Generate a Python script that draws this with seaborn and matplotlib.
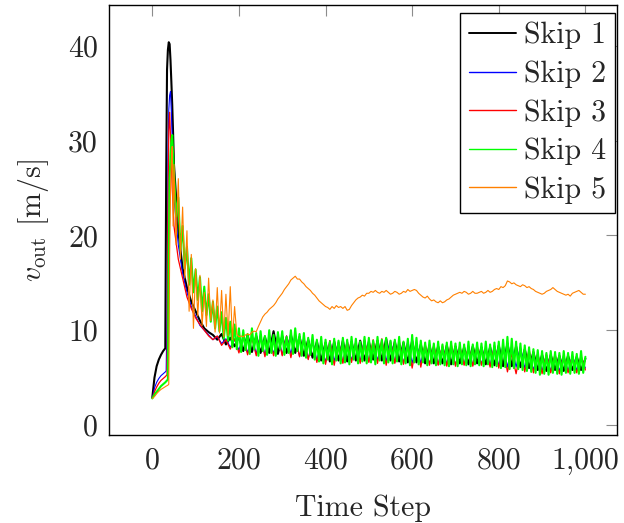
import matplotlib
matplotlib.use("Agg")
import matplotlib.pyplot as plt
from matplotlib.ticker import FuncFormatter, FixedLocator
import seaborn as sns
import pandas as pd

# ---------------- data ----------------
early_steps = [0, 5, 10, 15, 20, 25, 30, 32, 34, 36, 38, 40, 42, 44, 46, 48]
time_fine = early_steps + list(range(50, 1001, 5))
time_coarse = early_steps + list(range(50, 1001, 10))

skip1 = [2.9, 5.0, 6.2, 6.9, 7.4, 7.8, 8.1, 26.0, 37.5, 39.6, 40.4, 40.2, 38.5, 36.2, 33.8, 30.8,
         27.5, 20.5, 16.5, 14.5, 13.0, 12.0, 11.0, 10.2, 9.8, 9.5, 9.0, 9.6, 8.5, 9.2, 8.3, 9.3,
         7.8, 9.5, 7.7, 9.4, 7.6, 9.3, 7.6, 9.9, 7.5, 9.4,
         7.6, 9.5, 7.6, 9.3, 7.3, 9.0, 7.1, 8.8, 6.8, 8.7,
         6.7, 8.8, 6.8, 8.9, 6.7, 8.8, 6.8, 8.9, 6.8, 8.8,
         6.9, 8.9, 6.8, 9.1, 6.8, 8.8, 6.7, 8.7, 6.6, 8.9,
         6.6, 8.5, 6.5, 8.4, 6.5, 8.3, 6.5, 8.4, 6.4, 8.3,
         6.5, 8.2, 6.4, 8.3, 6.5, 8.2, 6.4, 8.2, 6.3, 8.4,
         6.2, 8.6, 6.2, 8.3, 6.1, 8.0, 6.0, 7.7, 5.8, 7.4,
         5.7, 7.4, 5.8, 7.3, 5.7, 7.3, 5.8, 7.2, 5.8, 7.0]

skip2 = [2.8, 3.9, 4.5, 4.9, 5.2, 5.4, 5.6, 5.7, 12.0, 28.0, 33.2, 34.8, 35.2, 33.0, 30.0, 27.0,
         24.0, 19.0, 16.0, 14.0, 12.5, 11.5, 10.5, 10.0, 9.5, 9.0, 9.3, 8.6, 9.1, 8.2, 9.0, 7.9,
         9.4, 7.6, 9.3, 7.5, 9.5, 7.4, 9.3, 7.5, 9.6, 7.4,
         9.4, 7.5, 9.6, 7.2, 9.2, 7.0, 8.9, 6.8, 8.8, 6.6,
         8.9, 6.7, 8.8, 6.6, 8.9, 6.8, 8.8, 6.7, 9.0, 6.7,
         8.8, 6.8, 8.9, 6.7, 8.9, 6.6, 8.8, 6.5, 8.9, 6.5,
         8.6, 6.5, 8.5, 6.4, 8.4, 6.4, 8.3, 6.4, 8.4, 6.3,
         8.3, 6.4, 8.2, 6.3, 8.3, 6.4, 8.2, 6.3, 8.4, 6.2,
         8.5, 6.1, 8.4, 6.1, 8.2, 6.0, 7.8, 5.8, 7.5, 5.7,
         7.4, 5.7, 7.4, 5.7, 7.3, 5.7, 7.3, 5.8, 7.1, 6.0]

skip3 = [2.8, 3.5, 4.0, 4.4, 4.7, 4.9, 5.1, 5.2, 5.3, 22.0, 31.0, 33.0, 30.5, 27.5, 25.0, 23.0,
         21.0, 17.5, 15.5, 13.5, 12.3, 11.3, 10.6, 10.0, 9.4, 9.0, 9.4, 8.4, 9.0, 8.0, 9.1, 7.6,
         9.3, 7.4, 9.2, 7.3, 9.4, 7.2, 9.3, 7.3, 9.5, 7.3,
         9.4, 7.1, 9.3, 7.2, 9.1, 6.9, 8.8, 6.6, 8.7, 6.4,
         8.9, 6.3, 8.8, 6.5, 8.9, 6.6, 8.8, 6.5, 9.0, 6.6,
         9.0, 6.5, 9.1, 6.3, 8.8, 6.5, 8.9, 6.4, 8.7, 6.0,
         8.5, 6.1, 8.6, 6.3, 8.5, 6.3, 8.4, 6.2, 8.6, 6.2,
         8.4, 6.3, 8.3, 6.2, 8.4, 6.3, 8.2, 6.1, 8.4, 6.0,
         8.3, 5.6, 7.5, 5.4, 7.8, 5.6, 8.0, 5.5, 7.6, 5.4,
         7.5, 5.5, 7.5, 5.4, 7.4, 5.5, 7.3, 5.5, 7.3, 5.8]

skip4 = [2.8, 3.2, 3.5, 3.8, 4.1, 4.3, 4.5, 4.6, 4.7, 4.8, 18.0, 26.0, 28.5, 30.0, 30.6, 28.5,
         26.8, 22.0, 24.0, 18.5, 21.0, 16.5, 18.8, 14.8, 17.6, 14.0,
         16.4, 13.2, 15.6, 12.0, 14.6, 11.6, 13.8, 10.9, 13.0, 10.2,
         12.5, 9.9, 11.9, 9.1, 11.3, 8.9, 10.9, 8.2, 10.6, 8.0, 10.2,
         7.7, 10.0, 7.9, 9.6, 7.5, 10.2, 8.0, 9.7, 7.3, 9.9,
         7.8, 9.4, 7.4, 10.0, 7.6, 9.5, 7.3, 9.8, 8.0, 9.9,
         7.4, 9.3, 7.6, 10.0, 7.5, 10.2, 7.8, 9.6, 7.3, 9.7,
         7.1, 9.2, 7.4, 9.5, 6.9, 9.0, 6.7, 9.3, 6.5, 9.0,
         6.9, 8.8, 6.4, 9.1, 6.8, 8.9, 6.5, 9.2, 6.6, 9.0,
         6.4, 9.3, 6.9, 9.1, 6.5, 8.8, 6.7, 9.3, 6.5, 9.2,
         6.6, 8.9, 6.4, 9.3, 6.8, 9.0, 6.5, 9.2, 6.6, 8.9,
         6.5, 9.0, 6.7, 9.3, 6.4, 8.8, 6.5, 9.1, 6.3, 9.5,
         6.6, 9.2, 6.4, 8.9, 6.6, 8.7, 6.3, 8.9, 6.5, 8.6,
         6.3, 8.8, 6.4, 8.5, 6.3, 8.7, 6.2, 8.8, 6.4, 8.6,
         6.2, 8.7, 6.4, 8.5, 6.3, 8.8, 6.2, 8.5, 6.4, 8.7,
         6.3, 8.6, 6.2, 8.8, 6.4, 8.5, 6.1, 8.7, 6.2, 8.8,
         6.0, 9.0, 6.1, 9.3, 5.9, 9.1, 6.0, 8.8, 5.9, 8.6,
         5.8, 8.4, 5.7, 8.2, 5.6, 8.0, 5.5, 7.9, 5.3, 7.8,
         5.4, 7.6, 5.3, 7.8, 5.5, 7.7, 5.4, 7.6, 5.3, 7.8,
         5.5, 7.6, 5.4, 7.7, 5.5, 7.5, 5.4, 7.8, 5.5, 7.2]

skip5 = [2.8, 3.0, 3.3, 3.55, 3.75, 3.9, 4.05, 4.1, 4.15, 4.2, 4.3, 18.0, 24.5, 28.0, 29.4, 21.0,
         27.5, 19.0, 26.0, 17.5, 23.0, 15.5, 20.5, 12.0, 18.0, 10.2,
         16.5, 11.5, 15.8, 10.5, 14.0, 10.4, 15.5, 11.0, 13.2, 9.8,
         14.5, 9.7, 14.2, 9.3, 13.8, 9.4, 14.6, 9.0, 12.5, 9.6, 9.3,
         9.4, 9.3, 9.5, 9.6, 9.5, 9.8, 9.9, 9.85, 10.4, 10.9,
         11.4, 11.7, 11.9, 12.2, 12.4, 12.6, 12.9, 13.3, 13.6, 13.9,
         14.3, 14.6, 14.9, 15.3, 15.5, 15.7, 15.4, 15.4, 15.1, 14.9,
         14.6, 14.4, 14.2, 13.9, 13.7, 13.4, 13.1, 12.9, 12.7, 12.5,
         12.4, 12.2, 12.5, 12.3, 12.6, 12.4, 12.5, 12.3, 12.5, 12.1,
         12.2, 12.6, 12.9, 13.2, 13.4, 13.5, 13.7, 13.6, 13.9, 13.9,
         14.1, 14.0, 14.2, 14.0, 13.9, 14.1, 14.0, 14.2, 14.0, 13.8,
         13.9, 14.1, 14.0, 13.8, 13.9, 14.1, 14.0, 14.3, 14.1, 14.2,
         14.3, 14.2, 13.9, 13.7, 13.5, 13.4, 13.6, 13.3, 13.1, 13.2,
         13.0, 12.9, 13.1, 12.9, 13.0, 13.2, 13.3, 13.5, 13.7, 13.8,
         13.9, 14.0, 13.9, 14.1, 14.0, 13.8, 13.9, 14.1, 13.9, 13.9,
         14.0, 14.1, 13.9, 14.0, 14.2, 14.0, 14.1, 14.3, 14.4, 14.3,
         14.6, 14.5, 14.7, 15.2, 15.1, 14.9, 15.0, 14.8, 14.7, 14.6,
         14.8, 14.7, 14.5, 14.6, 14.4, 14.3, 14.1, 14.0, 13.9, 13.8,
         13.9, 14.1, 14.2, 14.3, 14.5, 14.3, 14.1, 14.0, 13.9, 13.8,
         13.7, 13.8, 13.6, 13.9, 14.0, 14.1, 14.2, 14.0, 13.8, 13.8]

series_labels = ["Skip 1", "Skip 2", "Skip 3", "Skip 4", "Skip 5"]
x_ticks = [0, 200, 400, 600, 800, 1000]
y_ticks = [0, 10, 20, 30, 40]

# ---------------- style ----------------
sns.set_theme(style="white")
plt.rcParams["font.family"] = "serif"
plt.rcParams["font.serif"] = ["cmr10", "DejaVu Serif"]
plt.rcParams["mathtext.fontset"] = "cm"
plt.rcParams["axes.formatter.use_mathtext"] = True
plt.rcParams["axes.unicode_minus"] = False

FS = 21.5
fig = plt.figure(figsize=(6.24, 5.23), dpi=100)
ax = fig.add_axes([109 / 624, 1 - 435 / 523, (617 - 109) / 624, (435 - 5) / 523])

styles = [("black", 1.5), ("blue", 0.8), ("red", 0.9), ("#00ff00", 1.5), ("#ff8000", 0.8)]
datasets = [(time_coarse, skip1), (time_coarse, skip2), (time_coarse, skip3),
            (time_fine, skip4), (time_fine, skip5)]

for (ts, vs), lab, (col, lw) in zip(datasets, series_labels, styles):
    df = pd.DataFrame({"time_step": ts, "v_out": vs})
    sns.lineplot(data=df, x="time_step", y="v_out", ax=ax, color=col, linewidth=lw,
                 label=lab, estimator=None, sort=False, errorbar=None)

ax.set_xlim(-100, 1073)
ax.set_ylim(-1.06, 44.33)
ax.xaxis.set_major_locator(FixedLocator(x_ticks))
ax.yaxis.set_major_locator(FixedLocator(y_ticks))
ax.xaxis.set_major_formatter(FuncFormatter(lambda v, p: f"{v:,.0f}"))
ax.yaxis.set_major_formatter(FuncFormatter(lambda v, p: f"{v:.0f}"))
ax.tick_params(axis="both", which="major", direction="in", length=7.8, width=0.8,
               color="0.55", top=True, right=True, labelsize=FS, pad=8)
ax.tick_params(axis="x", pad=9)

for sp in ax.spines.values():
    sp.set_color("black")
    sp.set_linewidth(1.0)
    sp.set_visible(True)

ax.set_xlabel("Time Step", fontsize=FS, labelpad=14)
ax.set_ylabel(r"$v_{\mathrm{out}}$ [m/s]", fontsize=FS, labelpad=12)

leg = ax.legend(loc="upper right", bbox_to_anchor=(0.996, 0.9814), borderaxespad=0,
                fontsize=FS, frameon=True, fancybox=False, shadow=False, framealpha=1,
                edgecolor="black", handlelength=1.6, handletextpad=0.25,
                borderpad=0.3, labelspacing=0.37)
leg.get_frame().set_linewidth(1.0)
for h, (col, lw) in zip(leg.get_lines(), styles):
    h.set_linewidth(1.4 if col == "black" else 1.0)

fig.savefig("out.png", dpi=100)
